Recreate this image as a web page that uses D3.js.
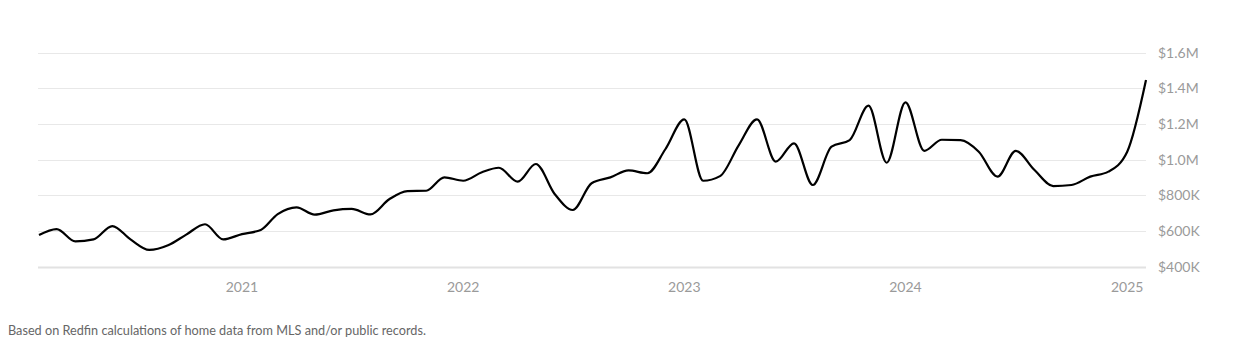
<!DOCTYPE html>
<html>
<head>
<meta charset="utf-8">
<script src="https://cdn.jsdelivr.net/npm/d3@7"></script>
<style>
  html, body { margin: 0; padding: 0; background: #fff; }
  svg { display: block; }
  text { font-family: Lato, "Open Sans", sans-serif; }
</style>
</head>
<body>
<svg id="chart" width="1234" height="347"></svg>
<script>
// Monthly median sale price (thousands of USD), Feb 2020 .. Feb 2025
const startMonth = "2020-02";
const priceK = [
  578, 611, 542, 553, 628, 553, 494, 520, 580, 638, 553,
  583, 606, 695, 733, 692, 716, 724, 693, 778, 824, 826, 901,
  882, 930, 955, 877, 976, 808, 718, 868, 901, 940, 924, 1060,
  1226, 882, 908, 1082, 1226, 989, 1092, 858, 1073, 1110, 1303, 983,
  1322, 1050, 1112, 1110, 1045, 905, 1050, 942, 852, 858, 905, 933,
  1045, 1447
];
const yTicks = [400, 600, 800, 1000, 1200, 1400, 1600];
const yTickLabels = ["$400K", "$600K", "$800K", "$1.0M", "$1.2M", "$1.4M", "$1.6M"];
const xTickYears = [2021, 2022, 2023, 2024, 2025];
const footnote = "Based on Redfin calculations of home data from MLS and/or public records.";

const parse = d3.timeParse("%Y-%m");
const t0 = parse(startMonth);
const data = priceK.map((v, i) => ({ date: d3.timeMonth.offset(t0, i), value: v }));

const svg = d3.select("#chart");
const x = d3.scaleTime()
  .domain([data[0].date, data[data.length - 1].date])
  .range([39, 1146]);
const y = d3.scaleLinear().domain([400, 1600]).range([266.7, 52.7]);

// gridlines
svg.append("g").selectAll("line").data(yTicks).join("line")
  .attr("x1", 38).attr("x2", 1146)
  .attr("y1", d => Math.round(y(d)) + 0.5).attr("y2", d => Math.round(y(d)) + 0.5)
  .attr("stroke", d => d === 400 ? "#e2e2e2" : "#e8e8e8")
  .attr("stroke-width", d => d === 400 ? 2 : 1.2);

// y labels
svg.append("g").selectAll("text").data(yTicks).join("text")
  .attr("x", 1158).attr("y", d => y(d))
  .attr("dy", "0.35em")
  .attr("font-size", 14)
  .attr("fill", "#9a9a9a")
  .text((d, i) => yTickLabels[i]);

// x labels
svg.append("g").selectAll("text").data(xTickYears).join("text")
  .attr("x", d => x(new Date(d, 0, 1)))
  .attr("y", 292)
  .attr("text-anchor", "middle")
  .attr("font-size", 14)
  .attr("fill", "#9a9a9a")
  .text(d => d);

// line
const line = d3.line()
  .x(d => x(d.date))
  .y(d => y(d.value))
  .curve(d3.curveMonotoneX);
svg.append("path").datum(data)
  .attr("d", line)
  .attr("fill", "none")
  .attr("stroke", "#000")
  .attr("stroke-width", 2.2)
  .attr("stroke-linejoin", "round");

// footnote
svg.append("text")
  .attr("x", 8).attr("y", 335)
  .attr("font-size", 12.7)
  .attr("fill", "#666")
  .text(footnote);
</script>
</body>
</html>
